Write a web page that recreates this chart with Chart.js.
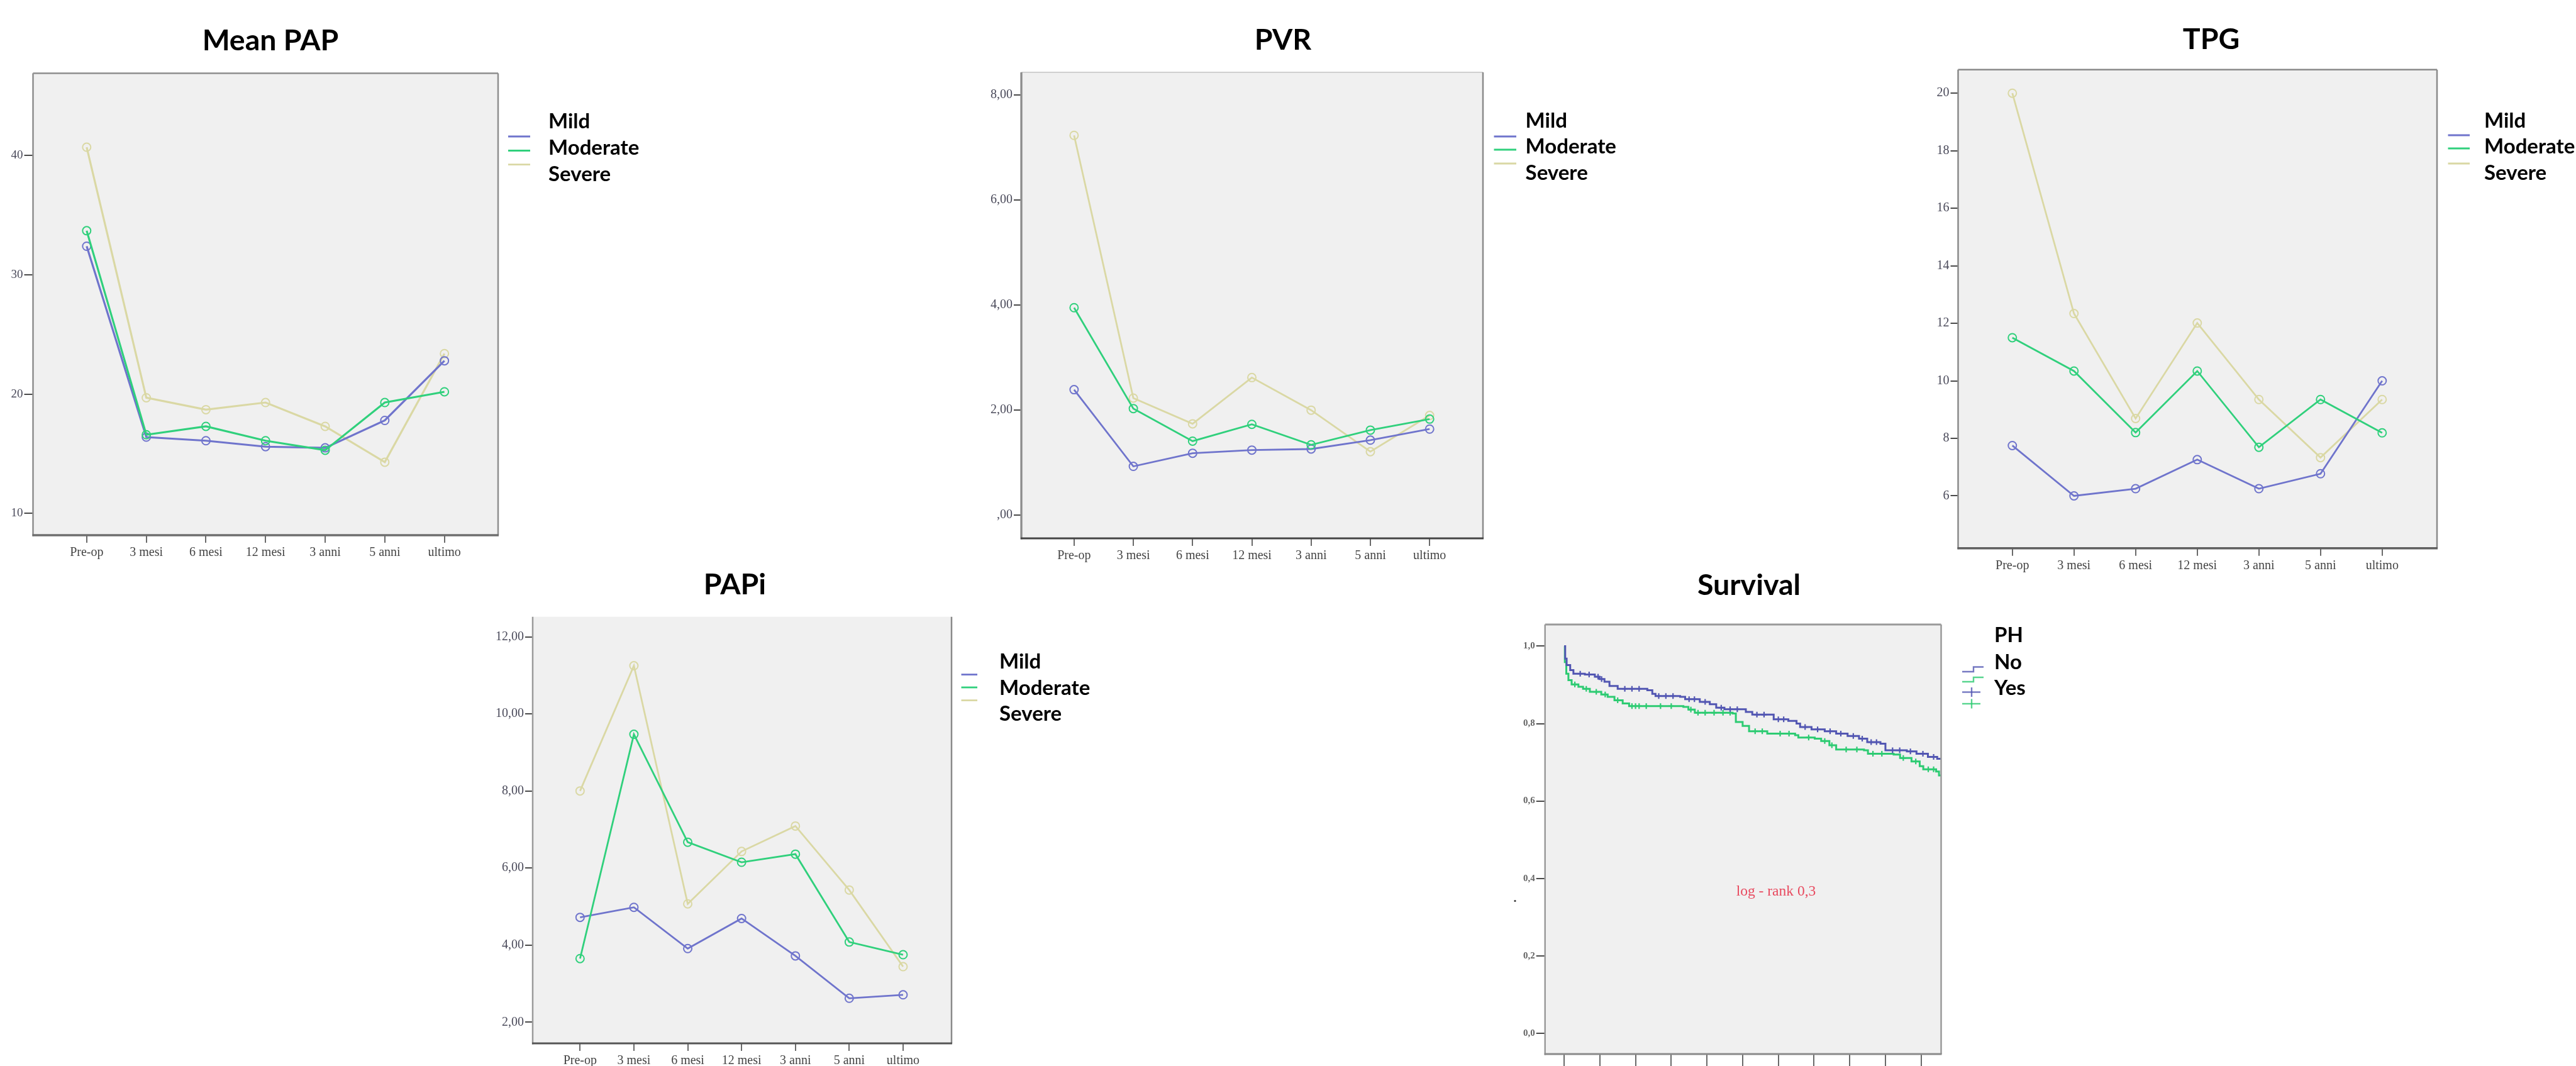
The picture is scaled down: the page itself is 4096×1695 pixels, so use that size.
<!DOCTYPE html>
<html><head><meta charset="utf-8">
<script src="https://cdn.jsdelivr.net/npm/chart.js@4.4.1/dist/chart.umd.min.js"></script>
<style>
html,body{margin:0;padding:0;background:#fff;}
body{width:4096px;height:1695px;position:relative;overflow:hidden;}
canvas{position:absolute;}
#overlay{position:absolute;left:0;top:0;}
</style></head><body>
<canvas id="cPAP"></canvas>
<canvas id="cPVR"></canvas>
<canvas id="cTPG"></canvas>
<canvas id="cPAPI"></canvas>
<canvas id="cSURV"></canvas>
<svg id="overlay" width="4096" height="1695" xmlns="http://www.w3.org/2000/svg"></svg>
<script>
// ---------------- DATA ----------------
const timeLabels = ['Pre-op','3 mesi','6 mesi','12 mesi','3 anni','5 anni','ultimo'];
const timeTicks = [0,1,2,3,4,5,6];
const groupNames = ['Mild','Moderate','Severe'];
const panelTitles = ['Mean PAP','PVR','TPG','PAPi','Survival'];

const papMild     = [32.4, 16.4, 16.1, 15.6, 15.5, 17.8, 22.8];
const papModerate = [33.7, 16.6, 17.3, 16.1, 15.3, 19.3, 20.2];
const papSevere   = [40.7, 19.7, 18.7, 19.3, 17.3, 14.3, 23.4];
const papTickValues = [10, 20, 30, 40];
const papTickLabels = ['10','20','30','40'];

const pvrMild     = [2.39, 0.93, 1.18, 1.24, 1.26, 1.43, 1.64];
const pvrModerate = [3.95, 2.03, 1.41, 1.73, 1.34, 1.62, 1.83];
const pvrSevere   = [7.23, 2.23, 1.74, 2.62, 2.00, 1.21, 1.90];
const pvrTickValues = [0, 2, 4, 6, 8];
const pvrTickLabels = [',00','2,00','4,00','6,00','8,00'];

const tpgMild     = [7.75, 6.00, 6.25, 7.26, 6.25, 6.77, 10.00];
const tpgModerate = [11.50, 10.34, 8.20, 10.34, 7.69, 9.35, 8.19];
const tpgSevere   = [20.00, 12.34, 8.69, 12.01, 9.35, 7.33, 9.35];
const tpgTickValues = [6, 8, 10, 12, 14, 16, 18, 20];
const tpgTickLabels = ['6','8','10','12','14','16','18','20'];

const papiMild     = [4.72, 4.98, 3.91, 4.69, 3.72, 2.62, 2.71];
const papiModerate = [3.65, 9.47, 6.67, 6.15, 6.36, 4.08, 3.75];
const papiSevere   = [8.00, 11.25, 5.07, 6.43, 7.09, 5.43, 3.44];
const papiTickValues = [2, 4, 6, 8, 10, 12];
const papiTickLabels = ['2,00','4,00','6,00','8,00','10,00','12,00'];

const phTitle = 'PH';
const phNames = ['No','Yes'];
const survTimeTicks = [0,1,2,3,4,5,6,7,8,9,10];
const survTickValues = [0, 0.2, 0.4, 0.6, 0.8, 1.0];
const survTickLabels = ['0,0','0,2','0,4','0,6','0,8','1,0'];
const kmNoTime = [0,0.03,0.07,0.17,0.26,0.58,0.86,0.99,1.13,1.27,1.5,2.33,2.47,2.56,3.25,3.39,3.8,4.08,4.26,4.49,5.09,5.27,5.87,6.28,6.51,6.61,6.93,7.3,7.62,7.94,8.26,8.49,8.86,9.0,9.6,9.87,10.19,10.45,10.56];
const kmNoSurv = [1.0,0.968,0.951,0.938,0.929,0.927,0.921,0.915,0.908,0.897,0.89,0.886,0.877,0.871,0.869,0.863,0.856,0.85,0.841,0.837,0.83,0.823,0.811,0.807,0.8,0.791,0.785,0.78,0.774,0.768,0.761,0.752,0.748,0.731,0.728,0.722,0.714,0.709,0.709];
const kmYesTime = [0,0.02,0.06,0.12,0.21,0.4,0.53,0.72,1.04,1.22,1.41,1.64,1.82,3.34,3.48,3.66,4.72,4.81,5.0,5.18,5.69,6.47,6.56,7.02,7.2,7.43,7.62,8.4,8.51,9.23,9.41,9.73,9.96,10.06,10.42,10.5,10.56];
const kmYesSurv = [1.0,0.959,0.929,0.912,0.901,0.895,0.89,0.882,0.875,0.869,0.86,0.852,0.845,0.843,0.836,0.828,0.826,0.804,0.794,0.78,0.774,0.77,0.764,0.761,0.755,0.744,0.733,0.731,0.722,0.72,0.711,0.702,0.69,0.682,0.676,0.666,0.666];
const censNoTime = [0.45,0.7,0.95,1.05,1.7,1.9,2.1,2.65,2.85,3.05,3.5,3.65,3.95,4.4,4.65,4.85,5.4,5.6,6.0,6.15,6.75,7.1,7.45,7.75,8.1,8.35,8.6,8.75,9.2,9.4,9.7,10.05,10.35];
const censNoSurv = [0.929,0.927,0.921,0.915,0.89,0.89,0.89,0.871,0.871,0.871,0.863,0.863,0.856,0.841,0.837,0.837,0.823,0.823,0.811,0.811,0.791,0.785,0.78,0.774,0.768,0.761,0.752,0.752,0.731,0.731,0.728,0.722,0.714];
const censYesTime = [0.3,0.62,0.9,1.15,1.5,1.9,2.0,2.1,2.3,2.7,3.0,3.55,3.75,3.95,4.2,4.45,4.65,5.35,5.55,6.05,6.3,6.85,7.3,7.5,7.9,8.2,8.65,8.9,9.5,9.85,10.2,10.35];
const censYesSurv = [0.901,0.89,0.882,0.875,0.86,0.845,0.845,0.845,0.845,0.845,0.845,0.836,0.828,0.828,0.828,0.828,0.828,0.78,0.78,0.774,0.774,0.764,0.755,0.744,0.733,0.733,0.722,0.722,0.711,0.702,0.682,0.682];
const logRankText = 'log - rank 0,3';

// ---------------- STYLE ----------------
const COL = {mild:'#6f74cc', moderate:'#30d07c', severe:'#dad8a4', no:'#5256b2', yes:'#2dcb72', bg:'#f0f0f0'};
const groupColors = [COL.mild, COL.moderate, COL.severe];

const framePlugin = {
  id:'frame',
  beforeDraw(chart, args, o){
    const a = chart.chartArea, ctx = chart.ctx;
    ctx.save(); ctx.fillStyle = COL.bg;
    ctx.fillRect(a.left, a.top, a.right-a.left, a.bottom-a.top); ctx.restore();
  },
  afterDraw(chart, args, o){
    const a = chart.chartArea, ctx = chart.ctx;
    const line = (x1,y1,x2,y2,c,w)=>{ if(!c) return; ctx.beginPath(); ctx.strokeStyle=c; ctx.lineWidth=w; ctx.moveTo(x1,y1); ctx.lineTo(x2,y2); ctx.stroke(); };
    ctx.save();
    line(a.left, a.top, a.right, a.top, o.top, o.topW || 2.5);
    line(a.right, a.top, a.right, a.bottom, o.right, 2.5);
    line(a.left, a.top, a.left, a.bottom+1.5, o.left, o.leftW || 2.5);
    line(a.left-1, a.bottom, a.right+1, a.bottom, o.bottom, o.bottomW || 3);
    ctx.restore();
  }
};

function lineDataset(name, values, color, order, w){
  return {label:name, data: values.map((v,i)=>({x:timeTicks[i], y:v})), borderColor:color,
    backgroundColor:'rgba(0,0,0,0)', borderWidth:w||2.8, pointRadius:6.5, pointBorderWidth:2,
    pointBackgroundColor:'rgba(0,0,0,0)', pointBorderColor:color, pointStyle:'circle', tension:0, order};
}

function buildChart(p){
  const cv = document.getElementById(p.id);
  const [cl, ct, cr, cb] = p.canvas;
  const [bl, bt, br, bb] = p.box;
  cv.width = cr-cl; cv.height = cb-ct;
  cv.style.left = cl+'px'; cv.style.top = ct+'px';
  cv.style.width = (cr-cl)+'px'; cv.style.height = (cb-ct)+'px';
  return new Chart(cv, {
    type:'line',
    data:{datasets:p.datasets},
    options:{
      responsive:false, animation:false, devicePixelRatio:1, events:[],
      layout:{autoPadding:false, padding:{left:0, top:bt-ct, right:cr-br, bottom:0}},
      plugins:{legend:{display:false}, tooltip:{enabled:false}, title:{display:false}, frame:p.frame},
      scales:{
        x:{type:'linear', min:p.x.min, max:p.x.max,
           afterBuildTicks(s){ s.ticks = p.x.ticks.map(v=>({value:v})); },
           afterFit(s){ s.height = cb-bb; },
           grid:{display:true, drawOnChartArea:false, drawTicks:true, tickLength:p.x.tickLen, color:'#6a6a6a', lineWidth:2},
           border:{display:false},
           ticks:{autoSkip:false, maxRotation:0, padding:p.x.pad, color:'#444',
             font:{family:'Liberation Serif', size:p.x.fs||20},
             callback:(v)=>{ const i = p.x.ticks.indexOf(v); return p.x.labels ? (p.x.labels[i] ?? '') : ''; }}
        },
        y:{type:'linear', min:p.y.min, max:p.y.max,
           afterBuildTicks(s){ s.ticks = p.y.ticks.map(v=>({value:v})); },
           afterFit(s){ s.width = bl-cl; },
           grid:{display:true, drawOnChartArea:false, drawTicks:true, tickLength:p.y.tickLen||13, color:'#4a4a4a', lineWidth:2},
           border:{display:false},
           ticks:{padding:2, color:p.y.color||'#4a4a5a',
             font:{family:'Liberation Serif', size:p.y.fs||20, weight:p.y.fw||'normal'},
             callback:(v)=>{ const i = p.y.ticks.indexOf(v); return p.y.labels[i] ?? ''; }}
        }
      }
    },
    plugins:[framePlugin]
  });
}

const xTime = (min,max)=>({min, max, ticks:timeTicks, labels:timeLabels, tickLen:12, pad:4});

buildChart({id:'cPAP', canvas:[0,100,800,900], box:[52.5,116.4,792,851],
  datasets:[lineDataset(groupNames[0],papMild,COL.mild,2,3.2), lineDataset(groupNames[1],papModerate,COL.moderate,1,3.2), lineDataset(groupNames[2],papSevere,COL.severe,3,3.2)],
  x:xTime(-0.9,6.9), y:{min:8.18, max:46.9, ticks:papTickValues, labels:papTickLabels, tickLen:14, fs:19},
  frame:{top:'#8e8e8e', right:'#8e8e8e', left:'#8e8e8e', bottom:'#6e6e6e', bottomW:3.5}});

buildChart({id:'cPVR', canvas:[1560,100,2370,905], box:[1624,115,2358,856],
  datasets:[lineDataset(groupNames[0],pvrMild,COL.mild,2), lineDataset(groupNames[1],pvrModerate,COL.moderate,1), lineDataset(groupNames[2],pvrSevere,COL.severe,3)],
  x:xTime(-0.89,6.9), y:{min:-0.44, max:8.43, ticks:pvrTickValues, labels:pvrTickLabels, tickLen:12},
  frame:{top:'#cfcfcf', topW:2, right:'#8a8a8a', left:'#8c8c8c', leftW:3.3, bottom:'#454545', bottomW:2.8}});

buildChart({id:'cTPG', canvas:[3050,95,3885,920], box:[3113.5,110.7,3875,871.7],
  datasets:[lineDataset(groupNames[0],tpgMild,COL.mild,2), lineDataset(groupNames[1],tpgModerate,COL.moderate,1), lineDataset(groupNames[2],tpgSevere,COL.severe,3)],
  x:xTime(-0.88,6.89), y:{min:4.18, max:20.82, ticks:tpgTickValues, labels:tpgTickLabels, tickLen:12},
  frame:{top:'#8a8a8a', right:'#8a8a8a', left:'#8a8a8a', bottom:'#606060', bottomW:3.5}});

buildChart({id:'cPAPI', canvas:[780,965,1525,1695], box:[847,980.7,1513,1659],
  datasets:[lineDataset(groupNames[0],papiMild,COL.mild,2), lineDataset(groupNames[1],papiModerate,COL.moderate,1), lineDataset(groupNames[2],papiSevere,COL.severe,3)],
  x:xTime(-0.88,6.9), y:{min:1.45, max:12.52, ticks:papiTickValues, labels:papiTickLabels, tickLen:12},
  frame:{top:null, right:'#8a8a8a', left:'#9a9a9a', bottom:'#555555', bottomW:3}});

buildChart({id:'cSURV', canvas:[2400,975,3100,1695], box:[2456.7,993,3086.5,1676],
  datasets:[
    {label:phNames[0], data:kmNoTime.map((t,i)=>({x:t,y:kmNoSurv[i]})), stepped:'before', borderColor:COL.no, borderWidth:3, pointRadius:0, order:1},
    {label:phNames[1], data:kmYesTime.map((t,i)=>({x:t,y:kmYesSurv[i]})), stepped:'before', borderColor:COL.yes, borderWidth:3, pointRadius:0, order:2},
    {label:phNames[0]+' censored', data:censNoTime.map((t,i)=>({x:t,y:censNoSurv[i]})), showLine:false, pointStyle:'cross', pointRadius:4.5, pointBorderWidth:2.2, pointBorderColor:COL.no, borderColor:COL.no, order:1},
    {label:phNames[1]+' censored', data:censYesTime.map((t,i)=>({x:t,y:censYesSurv[i]})), showLine:false, pointStyle:'cross', pointRadius:4.5, pointBorderWidth:2.2, pointBorderColor:COL.yes, borderColor:COL.yes, order:2}
  ],
  x:{min:-0.535, max:10.56, ticks:survTimeTicks, labels:null, tickLen:19, pad:2},
  y:{min:-0.054, max:1.056, ticks:survTickValues, labels:survTickLabels, tickLen:14, fs:15, fw:'bold', color:'#666'},
  frame:{top:'#999999', topW:3, right:'#9a9a9a', left:'#9a9a9a', bottom:'#8a8a8a', bottomW:3}});

// ---------------- OVERLAY TEXT / LEGENDS ----------------
const svg = document.getElementById('overlay');
const NS = 'http://www.w3.org/2000/svg';
function el(tag, attrs, text){ const e = document.createElementNS(NS, tag); for (const k in attrs) e.setAttribute(k, attrs[k]); if (text!=null) e.textContent = text; svg.appendChild(e); return e; }
function boldText(x, y, s, size, anchor){ return el('text', {x, y, 'font-family':'Lato, "Open Sans", sans-serif', 'font-weight':'700', 'font-size':size, fill:'#000', 'text-anchor':anchor||'start'}, s); }

const titlePos = [[430,79.5],[2040,78.7],[3516,78],[1168.5,944.6],[2781,946]];
panelTitles.forEach((t,i)=> boldText(titlePos[i][0], titlePos[i][1], t, 46.5, 'middle'));

const legends = [
  {sx:[808,843], sy:[217,239.5,261.6], tx:872, ty:[204,246,288]},
  {sx:[2375.5,2411], sy:[217,238,260], tx:2425.6, ty:[202.5,244,286]},
  {sx:[3892.5,3927], sy:[215,236,260], tx:3950, ty:[202.5,244,286]},
  {sx:[1528.5,1554], sy:[1072.6,1093,1113.6], tx:1589, ty:[1063,1104.5,1146]}
];
legends.forEach(L=>{
  groupNames.forEach((g,i)=>{
    el('line', {x1:L.sx[0], x2:L.sx[1], y1:L.sy[i], y2:L.sy[i], stroke:groupColors[i], 'stroke-width':2.8});
    boldText(L.tx, L.ty[i], g, 33);
  });
});

// survival legend
[phTitle, phNames[0], phNames[1]].forEach((s,i)=> boldText(3171, [1021,1063.5,1105][i], s, 33));
el('path', {d:'M3120,1068 L3138,1068 L3138,1060.5 L3154,1060.5', fill:'none', stroke:COL.no, 'stroke-width':2.4, opacity:0.8});
el('path', {d:'M3120,1084 L3138,1084 L3138,1077 L3154,1077', fill:'none', stroke:COL.yes, 'stroke-width':2.4, opacity:0.8});
el('line', {x1:3120, x2:3149, y1:1100.5, y2:1100.5, stroke:COL.no, 'stroke-width':2.4, opacity:0.8});
el('line', {x1:3135, x2:3135, y1:1093, y2:1108, stroke:COL.no, 'stroke-width':2.4, opacity:0.8});
el('line', {x1:3120, x2:3149, y1:1119, y2:1119, stroke:COL.yes, 'stroke-width':2.4, opacity:0.8});
el('line', {x1:3135, x2:3135, y1:1111.5, y2:1126.5, stroke:COL.yes, 'stroke-width':2.4, opacity:0.8});

el('text', {x:2824, y:1423.5, 'font-family':'"Liberation Serif", serif', 'font-size':23.5, fill:'#e84a5f', 'text-anchor':'middle'}, logRankText);
el('circle', {cx:2409, cy:1432.5, r:1.6, fill:'#333'});
</script>
</body></html>
